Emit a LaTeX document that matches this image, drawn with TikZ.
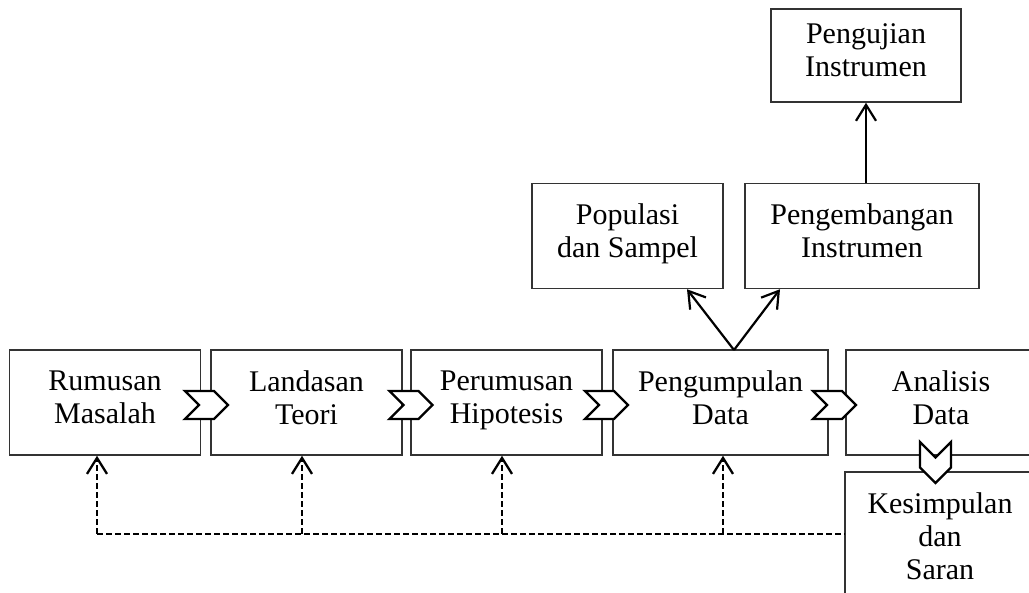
\documentclass[tikz,border=0pt]{standalone}
\usepackage{fontspec}
\setmainfont{Liberation Serif}
\usetikzlibrary{arrows.meta, shapes.symbols}

\begin{document}
\begin{tikzpicture}[x=1pt, y=-1pt, >={Straight Barb[length=16pt,width=20pt]},
        box/.style={draw=black!80, line width=1.5pt, align=center, inner sep=0pt,
            font=\fontsize{30}{33}\selectfont, minimum width=191pt, minimum height=105pt,
            execute at begin node=\strut, execute at end node=\strut},
        chev/.style={signal, draw, fill=white, line width=2.4pt, inner sep=0pt,
            signal from=west, signal to=east, minimum width=43pt, minimum height=28pt},
        link/.style={->, line width=2.2pt},
        fbline/.style={line width=2.3pt, dash pattern=on 6pt off 3pt}]
            \useasboundingbox (0,0) rectangle (1029,593);
            \clip (0,0) rectangle (1029,593);

            % main row
            \node[box] (m1) at (105,402.5) {Rumusan\\Masalah};
            \node[box] (m2) at (306.5,402.5) {Landasan\\Teori};
            \node[box] (m3) at (506.5,402.5) {Perumusan\\Hipotesis};
            \node[box, minimum width=215pt] (m4) at (720.5,402.5) {Pengumpulan\\Data};
            \node[box, minimum width=190pt] (m5) at (941,402.5) {Analisis\\Data};
            \node[box, minimum width=190pt, minimum height=138pt] (kes) at (940,541) {Kesimpulan\\dan\\Saran};

            % upper boxes
            \node[box] (pop) at (627.5,236) {Populasi\\dan Sampel};
            \node[box, minimum width=234pt] (dev) at (862,236) {Pengembangan\\Instrumen};
            \node[box, minimum width=190pt, minimum height=93pt] (uji) at (866,55.5) {Pengujian\\Instrumen};

            % chevrons
            \node[chev] (c1) at (206.5,405) {};
            \node[chev] (c2) at (411,405) {};
            \node[chev] (c3) at (606.5,405) {};
            \node[chev] (c4) at (834.5,405) {};
            \node[chev, rotate=-90, minimum width=41pt, minimum height=31pt] (c5) at (935.5,462.5) {};

            % arrows up
            \coordinate (apex) at (734,350);
            \draw[link] (apex) -- ([xshift=59.5pt]pop.south);
            \draw[link] (apex) -- ([xshift=-82pt]dev.south);
            \draw[link] (uji.south |- dev.north) -- (uji.south);

            % feedback
            \coordinate (f1) at (97,534);
            \coordinate (f2) at (302,534);
            \coordinate (f3) at (502,534);
            \coordinate (f4) at (723,534);
            \draw[fbline] (f1) -- (f1 -| kes.west);
            \draw[fbline, ->] (f1) -- (f1 |- m1.south);
            \draw[fbline, ->] (f2) -- (f2 |- m2.south);
            \draw[fbline, ->] (f3) -- (f3 |- m3.south);
            \draw[fbline, ->] (f4) -- (f4 |- m4.south);
        \end{tikzpicture}
\end{document}
